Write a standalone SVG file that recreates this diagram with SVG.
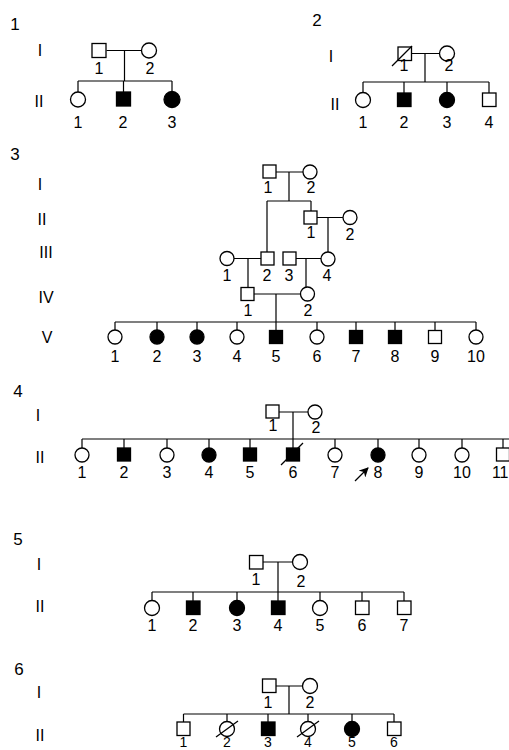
<svg xmlns="http://www.w3.org/2000/svg" width="509" height="750" viewBox="0 0 509 750">
<defs>
<style>
.o{fill:#fff;stroke:#000;stroke-width:1.3}
.f{fill:#000;stroke:#000;stroke-width:1.3}
.ln{fill:none;stroke:#000;stroke-width:1.2}
.sl{fill:none;stroke:#000;stroke-width:1.3}
text{font-family:"Liberation Sans",Arial,sans-serif;font-size:16px;fill:#000;text-anchor:middle}
.pn{font-size:17px}
.bt{font-size:14px}
</style>
<marker id="ah" viewBox="0 0 10 10" refX="9" refY="5" markerWidth="8" markerHeight="8" orient="auto"><path d="M0,0 L10,5 L0,10 L3,5 z" fill="#000"/></marker>
</defs>
<rect width="509" height="750" fill="#fff"/>

<g id="connectors">
<!-- P1 -->
<path class="ln" d="M106.5,50.5H141.5M124.5,50.5V81M78,81H172M78,81V92M123.5,81V92M172,81V91.5"/>
<!-- P2 -->
<path class="ln" d="M411.5,53.5H439.5M425,53.5V82M363,82H489M363,82V92.5M404,82V93M447,82V92.5M489,82V93"/>
<!-- P3 -->
<path class="ln" d="M276,172H303M289,172V201M267,201H311M311,201V211M317,217.5H343M328,217.5V252M267,201V252M234,258.5H261M248,258.5V287.5M296,258.5H321M306,258.5V287M254,294H300.5M276,294V322M115,322H476M115,322V330M157,322V330M197,322V330M237,322V330M276,322V330.5M317,322V330M356,322V330.5M395,322V330.5M435,322V330.5M476,322V330"/>
<!-- P4 -->
<path class="ln" d="M279,412H308M293,412V448M82,439H509M82,439V448M124,439V448M167,439V448M209,439V448M250,439V448M335,439V448M378,439V448M419,439V448M462,439V448M503,439V448"/>
<line class="ln" x1="355" y1="481" x2="368" y2="468" marker-end="url(#ah)"/>
<!-- P5 -->
<path class="ln" d="M263,562H292.5M278,562V601M152,592H404M152,592V600.5M193,592V601M237,592V600.5M320,592V600.5M362,592V601M404,592V601"/>
<!-- P6 -->
<path class="ln" d="M276,686H302.5M289,686V714M183.5,714H394M183.5,714V722M227,714V721.5M268,714V722M308,714V721.5M352,714V721.5M394,714V722"/>
</g>

<!-- Pedigree 1 -->
<g id="p1-title"><text class="pn" x="15" y="30">1</text><text x="40" y="56">I</text><text x="39" y="107">II</text></g>
<g id="p1-I-1"><rect class="o" x="92" y="43.5" width="14" height="14"/><text x="99" y="74">1</text></g>
<g id="p1-I-2"><circle class="o" cx="149" cy="50.5" r="7.5"/><text x="150" y="74">2</text></g>
<g id="p1-II-1"><circle class="o" cx="78" cy="99.5" r="7.5"/><text x="78" y="128">1</text></g>
<g id="p1-II-2"><rect class="f" x="116.5" y="92" width="14" height="14"/><text x="123" y="128">2</text></g>
<g id="p1-II-3"><circle class="f" cx="172" cy="99.5" r="8"/><text x="172" y="128">3</text></g>

<!-- Pedigree 2 -->
<g id="p2-title"><text class="pn" x="317" y="26">2</text><text x="331" y="62">I</text><text x="335" y="110">II</text></g>
<g id="p2-I-1"><rect class="o" x="398" y="47" width="13.5" height="13.5"/><line class="sl" x1="392" y1="66" x2="412" y2="46"/><text x="404" y="71">1</text></g>
<g id="p2-I-2"><circle class="o" cx="447" cy="53.5" r="7.5"/><text x="449" y="71">2</text></g>
<g id="p2-II-1"><circle class="o" cx="363" cy="100" r="7.5"/><text x="363" y="128">1</text></g>
<g id="p2-II-2"><rect class="f" x="397.5" y="93" width="13.5" height="13.5"/><text x="404" y="128">2</text></g>
<g id="p2-II-3"><circle class="f" cx="447" cy="100" r="7.5"/><text x="447" y="128">3</text></g>
<g id="p2-II-4"><rect class="o" x="482.5" y="93" width="13.5" height="13.5"/><text x="489" y="128">4</text></g>

<!-- Pedigree 3 -->
<g id="p3-title"><text class="pn" x="15" y="160">3</text><text x="40" y="190">I</text><text x="42" y="225">II</text><text x="46" y="258">III</text><text x="46" y="303">IV</text><text x="47" y="343">V</text></g>
<g id="p3-I-1"><rect class="o" x="263" y="165" width="13" height="13"/><text x="268" y="193">1</text></g>
<g id="p3-I-2"><circle class="o" cx="310" cy="172" r="7"/><text x="311" y="193">2</text></g>
<g id="p3-II-1"><rect class="o" x="304" y="211" width="13" height="13"/><text x="311" y="238">1</text></g>
<g id="p3-II-2"><circle class="o" cx="350" cy="217.5" r="7"/><text x="350" y="240">2</text></g>
<g id="p3-III-1"><circle class="o" cx="227" cy="258.5" r="7"/><text x="227" y="281">1</text></g>
<g id="p3-III-2"><rect class="o" x="261" y="252" width="13" height="13"/><text x="267" y="281">2</text></g>
<g id="p3-III-3"><rect class="o" x="283" y="252" width="13" height="13"/><text x="289" y="281">3</text></g>
<g id="p3-III-4"><circle class="o" cx="328" cy="259" r="7"/><text x="327" y="281">4</text></g>
<g id="p3-IV-1"><rect class="o" x="241" y="287.5" width="13" height="13"/><text x="248" y="316">1</text></g>
<g id="p3-IV-2"><circle class="o" cx="307.5" cy="294" r="7"/><text x="308" y="316">2</text></g>
<g id="p3-V-1"><circle class="o" cx="115" cy="337" r="7"/><text x="115" y="362">1</text></g>
<g id="p3-V-2"><circle class="f" cx="157" cy="337" r="7"/><text x="157" y="362">2</text></g>
<g id="p3-V-3"><circle class="f" cx="197" cy="337" r="7"/><text x="197" y="362">3</text></g>
<g id="p3-V-4"><circle class="o" cx="237" cy="337" r="7"/><text x="237" y="362">4</text></g>
<g id="p3-V-5"><rect class="f" x="269.5" y="330.5" width="13" height="13"/><text x="276" y="362">5</text></g>
<g id="p3-V-6"><circle class="o" cx="317" cy="337" r="7"/><text x="317" y="362">6</text></g>
<g id="p3-V-7"><rect class="f" x="349.5" y="330.5" width="13" height="13"/><text x="356" y="362">7</text></g>
<g id="p3-V-8"><rect class="f" x="388.5" y="330.5" width="13" height="13"/><text x="395" y="362">8</text></g>
<g id="p3-V-9"><rect class="o" x="428.5" y="330.5" width="13" height="13"/><text x="435" y="362">9</text></g>
<g id="p3-V-10"><circle class="o" cx="476" cy="337" r="7"/><text x="476" y="362">10</text></g>

<!-- Pedigree 4 -->
<g id="p4-title"><text class="pn" x="18" y="397">4</text><text x="38" y="421">I</text><text x="40" y="463">II</text></g>
<g id="p4-I-1"><rect class="o" x="266" y="405" width="13" height="13"/><text x="273" y="431">1</text></g>
<g id="p4-I-2"><circle class="o" cx="315" cy="412" r="7"/><text x="316" y="433">2</text></g>
<g id="p4-II-1"><circle class="o" cx="82" cy="455" r="7"/><text x="82" y="478">1</text></g>
<g id="p4-II-2"><rect class="f" x="117.5" y="448" width="13" height="13"/><text x="124" y="478">2</text></g>
<g id="p4-II-3"><circle class="o" cx="167" cy="455" r="7"/><text x="167" y="478">3</text></g>
<g id="p4-II-4"><circle class="f" cx="209" cy="455" r="7"/><text x="209" y="478">4</text></g>
<g id="p4-II-5"><rect class="f" x="243.5" y="448" width="13" height="13"/><text x="250" y="478">5</text></g>
<g id="p4-II-6"><rect class="f" x="286.5" y="448" width="13" height="13"/><line class="sl" x1="281" y1="465" x2="303" y2="443"/><text x="293" y="478">6</text></g>
<g id="p4-II-7"><circle class="o" cx="335" cy="455" r="7"/><text x="335" y="478">7</text></g>
<g id="p4-II-8"><circle class="f" cx="378" cy="455" r="7"/><text x="378" y="478">8</text></g>
<g id="p4-II-9"><circle class="o" cx="419" cy="455" r="7"/><text x="419" y="478">9</text></g>
<g id="p4-II-10"><circle class="o" cx="462" cy="455" r="7"/><text x="462" y="478">10</text></g>
<g id="p4-II-11"><rect class="o" x="496.5" y="448" width="13" height="13"/><text x="508.5" y="478" style="text-anchor:end">11</text></g>

<!-- Pedigree 5 -->
<g id="p5-title"><text class="pn" x="18" y="545">5</text><text x="39" y="570">I</text><text x="40" y="612">II</text></g>
<g id="p5-I-1"><rect class="o" x="249.5" y="555.5" width="13.5" height="13.5"/><text x="256" y="585">1</text></g>
<g id="p5-I-2"><circle class="o" cx="300" cy="562" r="7.5"/><text x="301" y="587">2</text></g>
<g id="p5-II-1"><circle class="o" cx="152" cy="608" r="7.5"/><text x="152" y="631">1</text></g>
<g id="p5-II-2"><rect class="f" x="186.5" y="601" width="13.5" height="13.5"/><text x="193" y="631">2</text></g>
<g id="p5-II-3"><circle class="f" cx="237" cy="608" r="7.5"/><text x="237" y="631">3</text></g>
<g id="p5-II-4"><rect class="f" x="271.5" y="601" width="13.5" height="13.5"/><text x="278" y="631">4</text></g>
<g id="p5-II-5"><circle class="o" cx="320" cy="608" r="7.5"/><text x="320" y="631">5</text></g>
<g id="p5-II-6"><rect class="o" x="355.5" y="601" width="13.5" height="13.5"/><text x="362" y="631">6</text></g>
<g id="p5-II-7"><rect class="o" x="397.5" y="601" width="13.5" height="13.5"/><text x="404" y="631">7</text></g>

<!-- Pedigree 6 -->
<g id="p6-title"><text class="pn" x="19" y="675">6</text><text x="39" y="698">I</text><text x="40" y="741">II</text></g>
<g id="p6-I-1"><rect class="o" x="262.5" y="679" width="13.5" height="13.5"/><text x="268" y="708">1</text></g>
<g id="p6-I-2"><circle class="o" cx="310" cy="686" r="7.5"/><text x="310" y="708">2</text></g>
<g id="p6-II-1"><rect class="o" x="177" y="722" width="13" height="13.5"/><text class="bt" x="183.5" y="746.5">1</text></g>
<g id="p6-II-2"><circle class="o" cx="227" cy="729" r="7.5"/><line class="sl" x1="216" y1="737" x2="238" y2="721"/><text class="bt" x="227" y="746.5">2</text></g>
<g id="p6-II-3"><rect class="f" x="261.5" y="722" width="13.5" height="13.5"/><text class="bt" x="268" y="746.5">3</text></g>
<g id="p6-II-4"><circle class="o" cx="308" cy="729" r="7.5"/><line class="sl" x1="297" y1="737" x2="319" y2="721"/><text class="bt" x="308" y="746.5">4</text></g>
<g id="p6-II-5"><circle class="f" cx="352" cy="729" r="7.5"/><text class="bt" x="352" y="746.5">5</text></g>
<g id="p6-II-6"><rect class="o" x="387.5" y="722" width="13.5" height="13.5"/><text class="bt" x="394" y="746.5">6</text></g>
</svg>
